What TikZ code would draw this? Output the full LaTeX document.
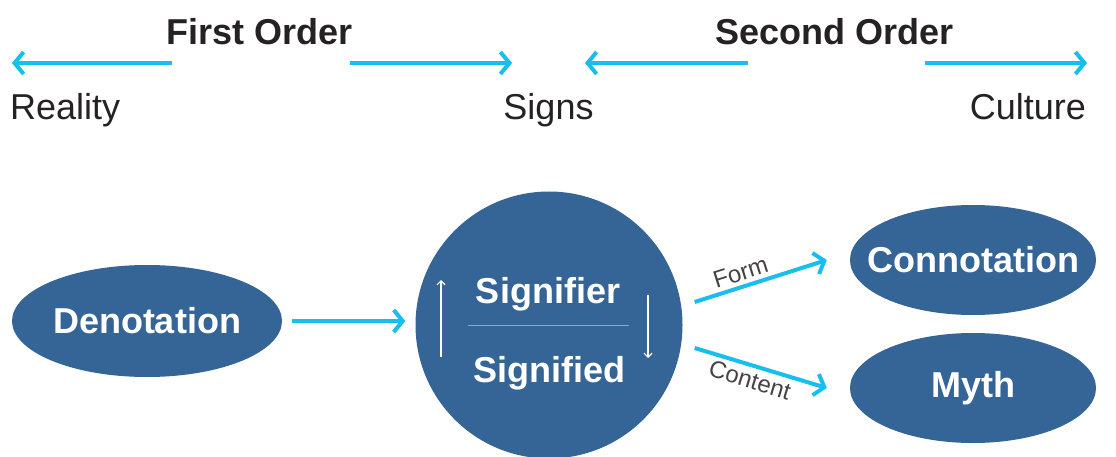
\documentclass[tikz,border=0pt]{standalone}
\usepackage{fontspec}
\setmainfont{Liberation Sans}
\usetikzlibrary{arrows.meta,shapes.geometric,calc}
\definecolor{flowcyan}{RGB}{24,190,236}
\definecolor{nodeblue}{RGB}{52,101,150}
\definecolor{inkdark}{RGB}{38,34,35}
\definecolor{rulelight}{RGB}{130,170,210}
\tikzset{
  flow/.style={draw=flowcyan, line width=4pt,
    -{Straight Barb[length=9pt,width=22pt,line width=4pt]}},
  thinflow/.style={draw=white, line width=1.3pt,
    -{Straight Barb[length=4pt,width=8pt,line width=1.2pt]}},
  whitebold/.style={text=white, inner sep=0pt,
    font=\fontsize{36}{40}\selectfont\bfseries},
  blob/.style={ellipse, fill=nodeblue, inner sep=0pt},
  heading/.style={text=inkdark, inner sep=0pt, anchor=base,
    font=\fontsize{36}{40}\selectfont\bfseries},
  pole/.style={text=inkdark, inner sep=0pt,
    font=\fontsize{36}{40}\selectfont},
  edgelabel/.style={text=inkdark!85, inner sep=1pt,
    font=\fontsize{24}{26}\selectfont},
}
\begin{document}
\begin{tikzpicture}[x=1pt,y=-1pt]
\useasboundingbox[fill=white] (0,0) rectangle (1116,457);

% headings and poles of the two orders
\node[heading] (first) at (259.5,45) {First Order};
\node[heading] (second) at (834.5,45) {Second Order};
\node[pole, anchor=base west] (reality) at (10,120) {Reality};
\node[pole, anchor=base] (signs) at (548.5,120) {Signs};
\node[pole, anchor=base east] (culture) at (1086,120) {Culture};

\coordinate (a1s) at (172,63);  \coordinate (a1e) at (12,63);
\coordinate (a2s) at (350,63);  \coordinate (a2e) at (512,63);
\coordinate (a3s) at (748,63);  \coordinate (a3e) at (585,63);
\coordinate (a4s) at (925,63);  \coordinate (a4e) at (1087,63);
\draw[flow] (a1s) -- (a1e);
\draw[flow] (a2s) -- (a2e);
\draw[flow] (a3s) -- (a3e);
\draw[flow] (a4s) -- (a4e);

% sign system
\node[blob, minimum width=270pt, minimum height=112pt] (deno) at (147,321) {};
\node[whitebold] (denotxt) at (deno.center) {Denotation};
\node[circle, fill=nodeblue, minimum size=267pt, inner sep=0pt] (sign) at (549,325) {};
\node[blob, minimum width=246pt, minimum height=110pt] (conn) at (973,260) {};
\node[whitebold] (conntxt) at (conn.center) {Connotation};
\node[blob, minimum width=246pt, minimum height=110pt] (myth) at (973,388) {};
\node[whitebold] (mythtxt) at (myth.center) {Myth};

\node[whitebold, anchor=base] (sfier) at (548,303) {Signifier};
\node[whitebold, anchor=base] (sfied) at (549,382) {Signified};
\coordinate (ruleL) at (468,325); \coordinate (ruleR) at (629,325);
\draw[rulelight, line width=1pt] (ruleL) -- (ruleR);
\coordinate (upS) at (441,357); \coordinate (upE) at (441,280);
\coordinate (dnS) at (648,295); \coordinate (dnE) at (648,358);
\draw[thinflow] (upS) -- (upE);
\draw[thinflow] (dnS) -- (dnE);

% connectors
\draw[flow, shorten <=10pt, shorten >=10pt] (deno.east) -- (deno.east -| sign.west);
\draw[flow] ([shift={(12,-23)}]sign.east) --
  node[edgelabel, sloped, above=3pt, pos=0.38] {Form}
  ([xshift=-23]conn.west);
\draw[flow] ([shift={(12,23)}]sign.east) --
  node[edgelabel, sloped, below=3pt, pos=0.45] {Content}
  ([xshift=-23]myth.west);
\end{tikzpicture}
\end{document}
